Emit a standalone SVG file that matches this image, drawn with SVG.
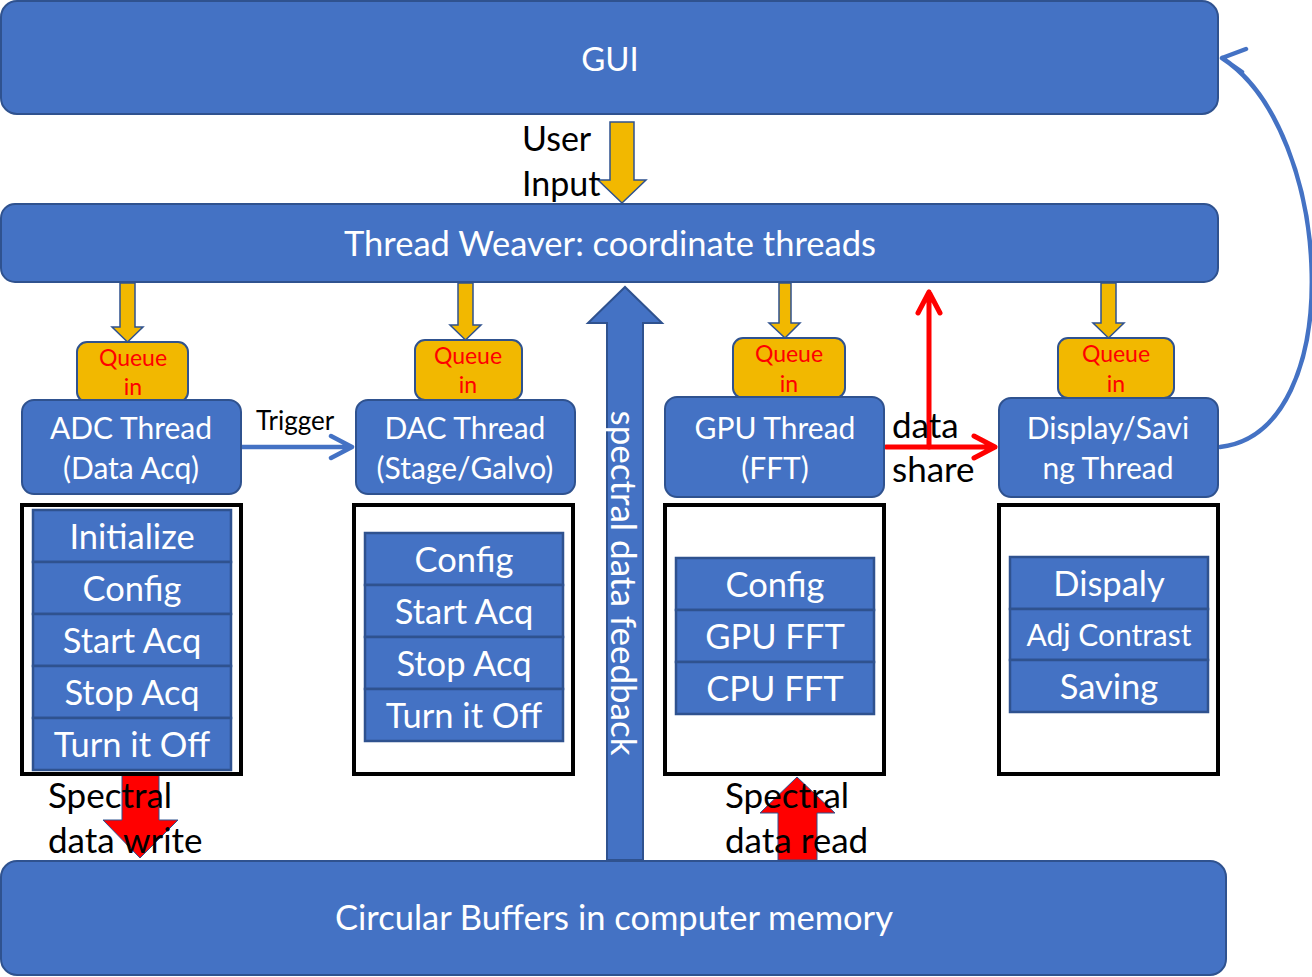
<svg xmlns="http://www.w3.org/2000/svg" width="1312" height="977" viewBox="0 0 1312 977">
<style>
.bx{fill:#4472C4;stroke:#2F528F;stroke-width:2}
.q{fill:#F2B800;stroke:#2F528F;stroke-width:2}
.ya{fill:#F2B800;stroke:#2F528F;stroke-width:1.5}
.fr{fill:#fff;stroke:#000;stroke-width:4}
.row{fill:#4472C4;stroke:#2F528F;stroke-width:2.5}
.w{font-family:Lato,"Liberation Sans",sans-serif;fill:#fff;text-anchor:middle}
.k{font-family:Lato,"Liberation Sans",sans-serif;fill:#000}
.qt{font-family:Lato,"Liberation Sans",sans-serif;fill:#FF0000;font-size:23px;text-anchor:middle}
.rl{fill:none;stroke:#FF0000;stroke-width:5;stroke-linecap:round;stroke-linejoin:round}
.bl{fill:none;stroke:#4472C4;stroke-width:4.5;stroke-linecap:round;stroke-linejoin:round}
.t{font-size:30px}
.r{font-size:34.5px}
</style>
<rect width="1312" height="977" fill="#fff"/>

<g id="gui"><rect class="bx" x="1" y="1" width="1217" height="113" rx="16"/><text class="w" x="610" y="71" font-size="33">GUI</text></g>
<g id="weaver"><rect class="bx" x="1" y="204" width="1217" height="78" rx="14"/><text class="w" x="610" y="256" font-size="34.5">Thread Weaver: coordinate threads</text></g>
<g id="buffers"><rect class="bx" x="1" y="861" width="1225" height="114" rx="16"/><text class="w" x="614" y="930" font-size="34.5">Circular Buffers in computer memory</text></g>

<g id="connectors">
<path class="ya" d="M610,122 H634 V180 H646 L622,203 L598,180 H610 Z"/>
<path class="ya" d="M120,283 H135 V327 H143 L127.5,342 L112,327 H120 Z"/>
<path class="ya" d="M458,283 H473 V325 H481 L465.5,340 L450,325 H458 Z"/>
<path class="ya" d="M779,283 H791 V323 H800 L785,338 L769,323 H779 Z"/>
<path class="ya" d="M1101,283 H1116 V323 H1124 L1108.5,338 L1093,323 H1101 Z"/>
<path class="bx" d="M607,860 V323 H588 L625,287 L662,323 H643 V860 Z"/>
<path fill="#FF0000" stroke="#2F528F" stroke-width="1" d="M122,775 H159 V820 H178 L140,858 L103,820 H122 Z"/>
<path fill="#FF0000" stroke="#2F528F" stroke-width="1" d="M778,860 V813 H760 L797,777 L835,813 H817 V860 Z"/>
<path class="bl" d="M242,447 H352 M331,436 L352,447 L331,458"/>
<path class="rl" d="M886,447 H995 M974,436 L995,447 L974,458"/>
<path class="rl" d="M929,447 V292 M918,313 L929,292 L940,313"/>
<path class="bl" d="M1220,447 C1350,432 1334,130 1222,58 M1246,49 L1222,58 L1242,72"/>
</g>
<text class="w" font-size="35" transform="translate(611,583) rotate(90)">spectral data feedback</text>
<text class="k" x="522" y="151" font-size="34">User</text>
<text class="k" x="522" y="196" font-size="34">Input</text>
<text class="k" x="256" y="430" font-size="26">Trigger</text>
<text class="k" x="892" y="438" font-size="35">data</text>
<text class="k" x="892" y="482" font-size="35">share</text>
<text class="k" x="48" y="808" font-size="35">Spectral</text>
<text class="k" x="48" y="853" font-size="35">data write</text>
<text class="k" x="725" y="808" font-size="35">Spectral</text>
<text class="k" x="725" y="853" font-size="35">data read</text>

<g id="adc">
<rect class="q" x="77" y="342" width="111" height="60" rx="10"/>
<text class="qt" x="133" y="366">Queue</text><text class="qt" x="133" y="395">in</text>
<rect class="bx" x="22" y="400" width="219" height="94" rx="12"/>
<text class="w t" x="131" y="439">ADC Thread</text>
<text class="w t" x="131" y="479">(Data Acq)</text>
</g>
<g id="dac">
<rect class="q" x="415" y="340" width="107" height="60" rx="10"/>
<text class="qt" x="468" y="364">Queue</text><text class="qt" x="468" y="393">in</text>
<rect class="bx" x="356" y="400" width="219" height="94" rx="12"/>
<text class="w t" x="465" y="439">DAC Thread</text>
<text class="w t" x="465" y="479">(Stage/Galvo)</text>
</g>
<g id="gpu">
<rect class="q" x="733" y="338" width="112" height="60" rx="10"/>
<text class="qt" x="789" y="362">Queue</text><text class="qt" x="789" y="392">in</text>
<rect class="bx" x="665" y="397" width="219" height="100" rx="12"/>
<text class="w t" x="775" y="439">GPU Thread</text>
<text class="w t" x="775" y="479">(FFT)</text>
</g>
<g id="display">
<rect class="q" x="1058" y="338" width="116" height="60" rx="10"/>
<text class="qt" x="1116" y="362">Queue</text><text class="qt" x="1116" y="392">in</text>
<rect class="bx" x="999" y="398" width="219" height="99" rx="12"/>
<text class="w t" x="1108" y="439">Display/Savi</text>
<text class="w t" x="1108" y="479">ng Thread</text>
</g>

<g id="adc-steps">
<rect class="fr" x="22" y="505" width="219" height="269"/>
<rect class="row" x="33" y="510" width="198" height="52"/><text class="w r" x="132" y="549">Initialize</text>
<rect class="row" x="33" y="562" width="198" height="52"/><text class="w r" x="132" y="601">Config</text>
<rect class="row" x="33" y="614" width="198" height="52"/><text class="w r" x="132" y="653">Start Acq</text>
<rect class="row" x="33" y="666" width="198" height="52"/><text class="w r" x="132" y="705">Stop Acq</text>
<rect class="row" x="33" y="718" width="198" height="52"/><text class="w r" x="132" y="757">Turn it Off</text>
</g>
<g id="dac-steps">
<rect class="fr" x="354" y="505" width="219" height="269"/>
<rect class="row" x="365" y="533" width="198" height="52"/><text class="w r" x="464" y="572">Config</text>
<rect class="row" x="365" y="585" width="198" height="52"/><text class="w r" x="464" y="624">Start Acq</text>
<rect class="row" x="365" y="637" width="198" height="52"/><text class="w r" x="464" y="676">Stop Acq</text>
<rect class="row" x="365" y="689" width="198" height="52"/><text class="w r" x="464" y="728">Turn it Off</text>
</g>
<g id="gpu-steps">
<rect class="fr" x="665" y="505" width="219" height="269"/>
<rect class="row" x="676" y="558" width="198" height="52"/><text class="w r" x="775" y="597">Config</text>
<rect class="row" x="676" y="610" width="198" height="52"/><text class="w r" x="775" y="649">GPU FFT</text>
<rect class="row" x="676" y="662" width="198" height="52"/><text class="w r" x="775" y="701">CPU FFT</text>
</g>
<g id="display-steps">
<rect class="fr" x="999" y="505" width="219" height="269"/>
<rect class="row" x="1010" y="557" width="198" height="52"/><text class="w r" x="1109" y="596">Dispaly</text>
<rect class="row" x="1010" y="609" width="198" height="51"/><text class="w" x="1109" y="646" font-size="30">Adj Contrast</text>
<rect class="row" x="1010" y="660" width="198" height="52"/><text class="w r" x="1109" y="699">Saving</text>
</g>
</svg>
